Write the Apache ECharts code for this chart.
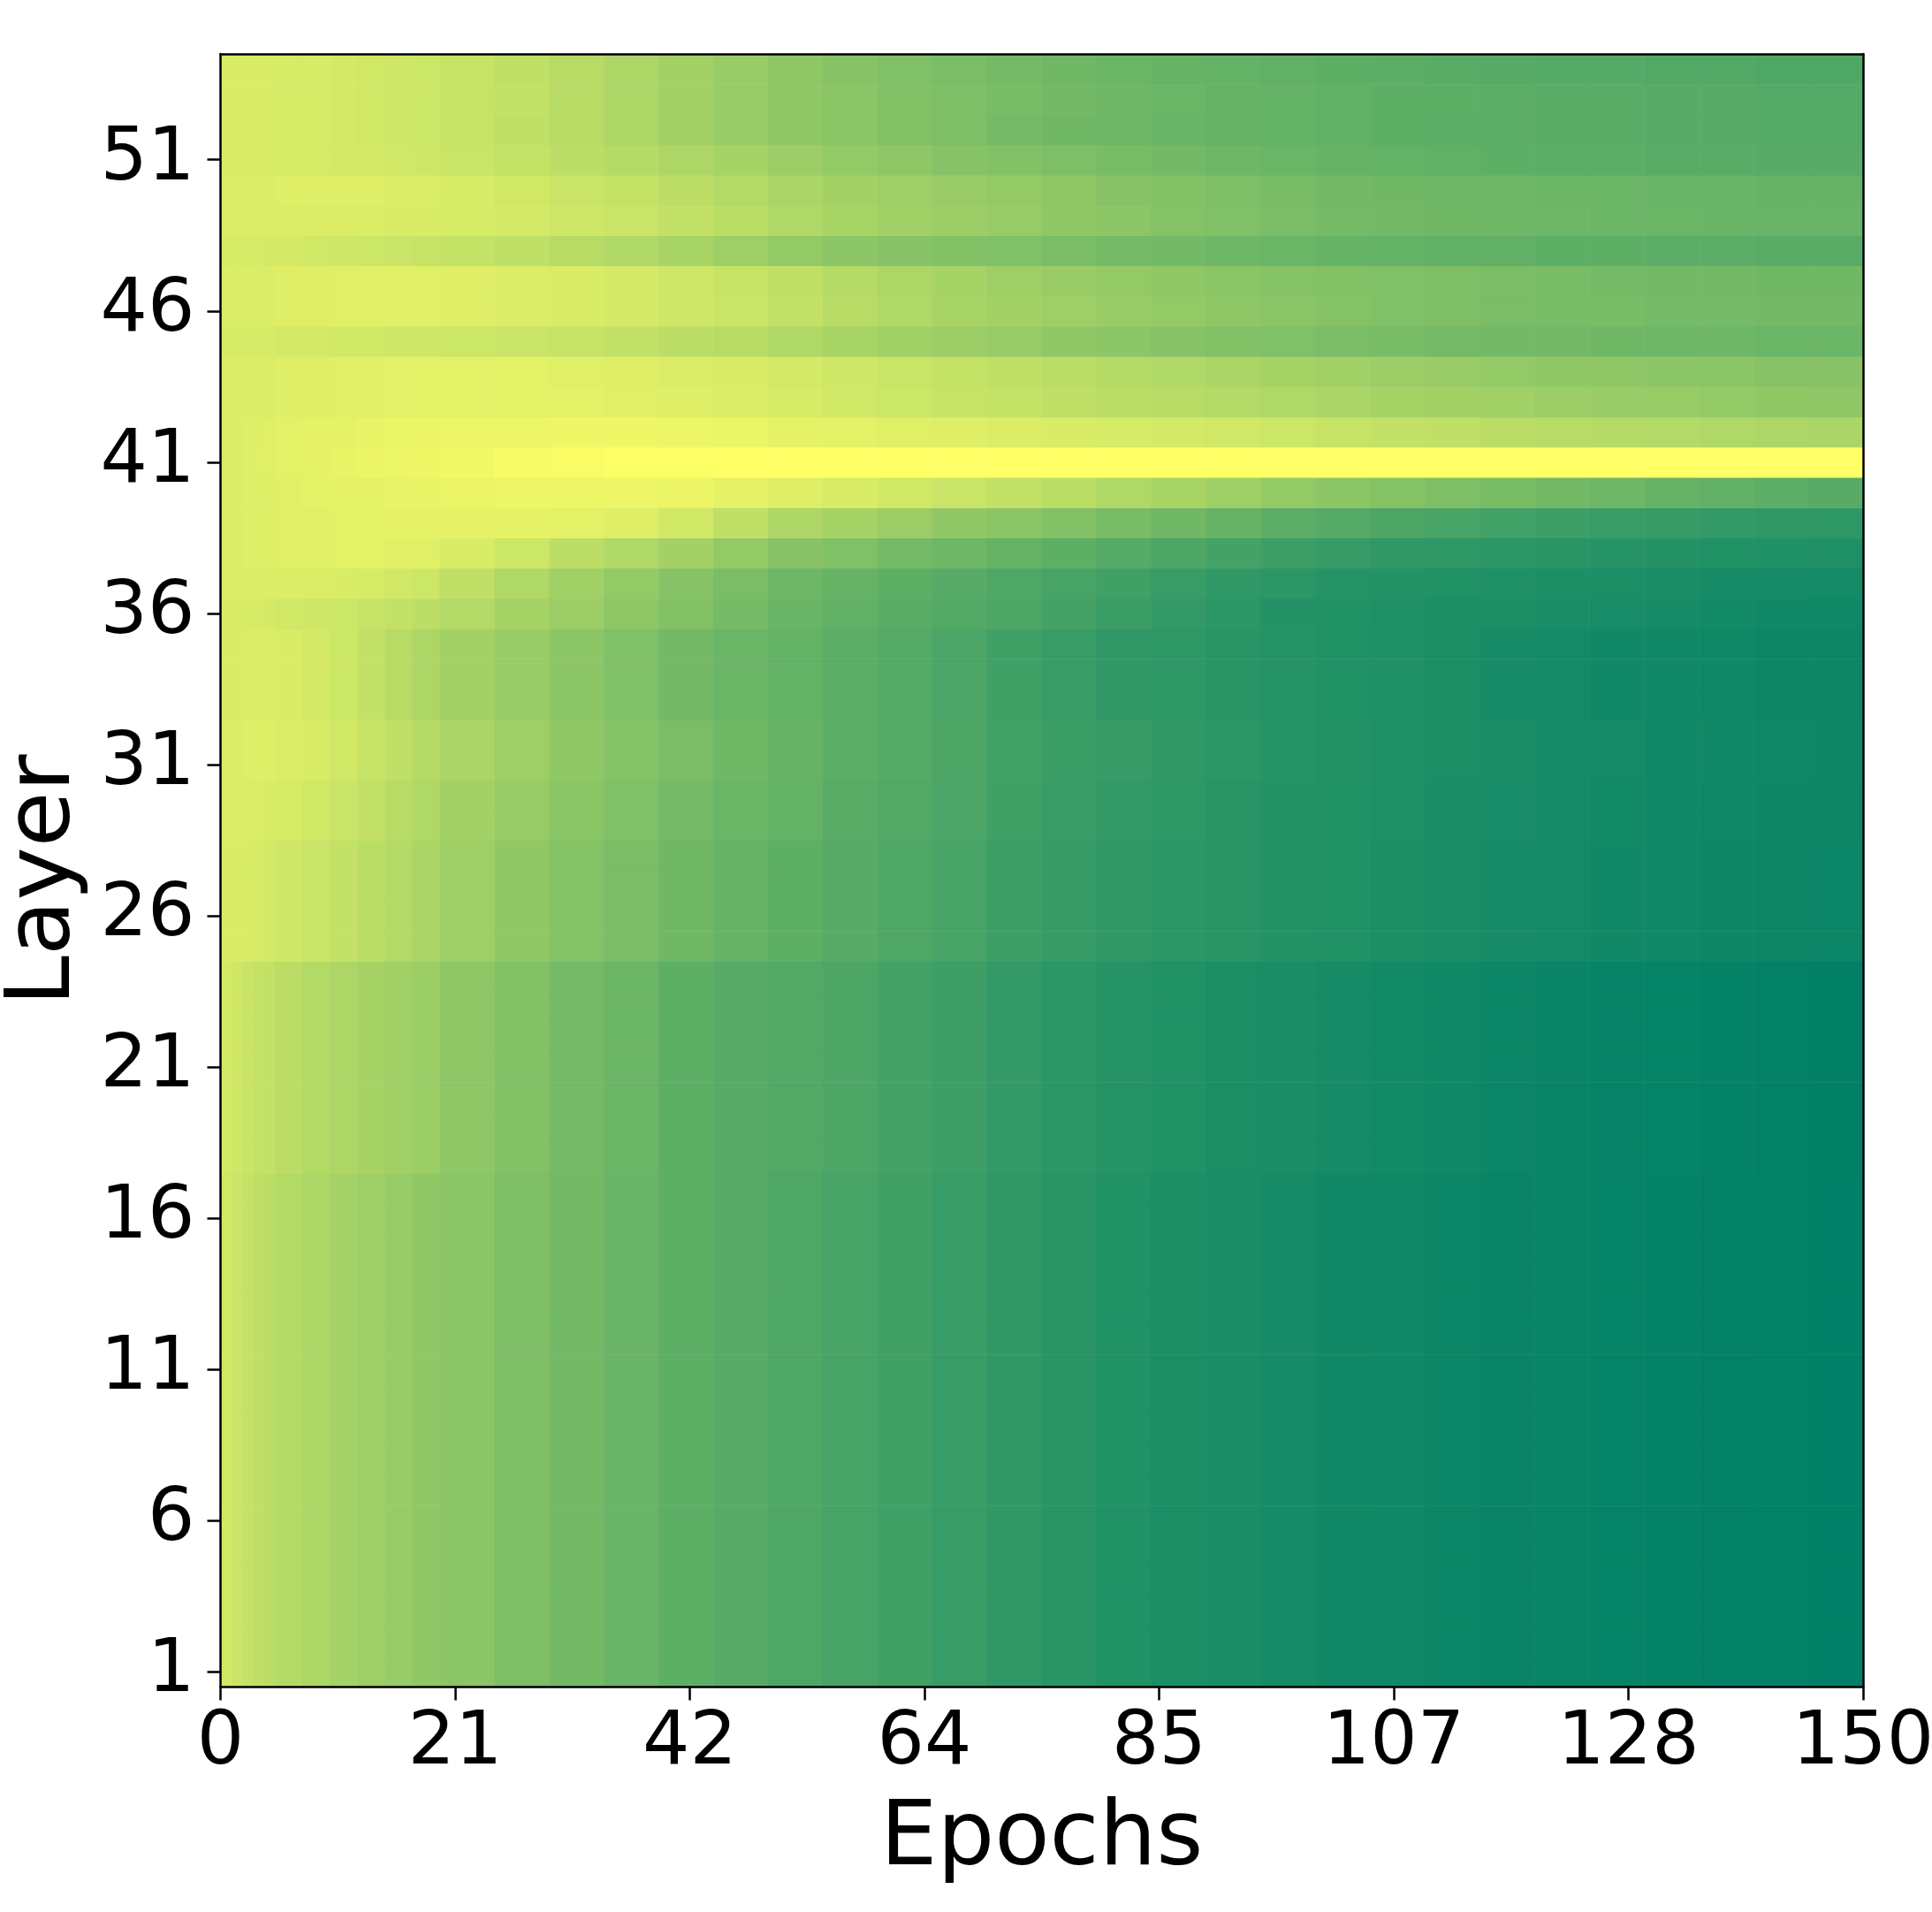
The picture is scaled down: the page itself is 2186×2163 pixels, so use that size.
<!DOCTYPE html>
<html>
<head>
<meta charset="utf-8">
<script src="https://cdn.jsdelivr.net/npm/echarts@6/dist/echarts.min.js"></script>
<style>
html,body{margin:0;padding:0;background:#fff;}
#main{width:2186px;height:2163px;}
</style>
</head>
<body>
<div id="main"></div>
<script>
// layer labels (y categories, bottom to top)
var layers = ['1','2','3','4','5','6','7','8','9','10','11','12','13','14','15','16','17','18',
	'19','20','21','22','23','24','25','26','27','28','29','30','31','32','33','34','35','36',
	'37','38','39','40','41','42','43','44','45','46','47','48','49','50','51','52','53','54'];

// cell edges along the epoch axis (finer where the colour changes fast)
var epochEdges = [0,1,2,3,4,5,7.5,10,12.5,15,17.5,20,25,30,35,40,45,50,55,60,65,70,75,80,85,90,
	95,100,105,110,115,120,125,130,135,140,145,150];

var xTickPos = [0, 21.43, 42.86, 64.29, 85.71, 107.14, 128.57, 150];
var xTickLabels = ['0','21','42','64','85','107','128','150'];

// normalised values, one list per row (or per group of identical rows)
var band1to17  = [0.82,0.79,0.77,0.75,0.73,0.705,0.675,0.645,0.62,0.595,0.57,
	0.54,0.49,0.45,0.41,0.37,0.34,0.31,0.28,0.25,0.22,0.19,0.16,0.13,0.11,0.10,0.085,0.07,0.06,0.045,0.035,0.03,0.02,0.015,0.01,0.005,0.0];
var band18to24 = [0.83,0.81,0.79,0.77,0.76,0.735,0.705,0.68,0.655,0.63,0.605,
	0.56,0.51,0.46,0.42,0.37,0.34,0.32,0.30,0.27,0.24,0.20,0.17,0.15,0.13,0.11,0.10,0.085,0.075,0.06,0.045,0.035,0.025,0.02,0.012,0.008,0.003];
var band25to28 = [0.85,0.85,0.85,0.84,0.83,0.81,0.79,0.76,0.73,0.70,0.67,
	0.62,0.57,0.52,0.48,0.44,0.40,0.37,0.34,0.31,0.28,0.24,0.21,0.19,0.17,0.16,0.14,0.13,0.115,0.10,0.09,0.08,0.07,0.06,0.055,0.05,0.045];
var band29to30 = [0.86,0.86,0.86,0.86,0.85,0.84,0.82,0.79,0.76,0.72,0.69,
	0.64,0.59,0.54,0.50,0.46,0.42,0.39,0.35,0.32,0.29,0.25,0.22,0.20,0.18,0.16,0.145,0.13,0.12,0.105,0.095,0.085,0.075,0.065,0.06,0.055,0.05];
var band31to32 = [0.86,0.86,0.87,0.87,0.87,0.86,0.85,0.82,0.78,0.75,0.71,
	0.67,0.62,0.57,0.52,0.48,0.44,0.40,0.36,0.33,0.30,0.26,0.23,0.21,0.19,0.17,0.15,0.135,0.12,0.11,0.10,0.09,0.08,0.07,0.065,0.06,0.055];
var band33to35 = [0.85,0.85,0.86,0.86,0.86,0.85,0.83,0.80,0.76,0.72,0.68,
	0.64,0.60,0.55,0.50,0.45,0.42,0.39,0.36,0.33,0.29,0.25,0.22,0.19,0.18,0.16,0.15,0.13,0.125,0.11,0.09,0.08,0.07,0.065,0.06,0.05,0.05];
var row36 = [0.85,0.85,0.84,0.84,0.83,0.82,0.81,0.80,0.78,0.76,0.74,
	0.70,0.65,0.61,0.56,0.51,0.46,0.41,0.38,0.35,0.32,0.30,0.27,0.23,0.20,0.17,0.14,0.13,0.12,0.115,0.11,0.10,0.095,0.085,0.075,0.07,0.06];
var row37 = [0.86,0.86,0.86,0.86,0.86,0.86,0.86,0.85,0.84,0.82,0.80,
	0.75,0.69,0.63,0.58,0.53,0.48,0.43,0.40,0.37,0.34,0.31,0.28,0.25,0.22,0.19,0.17,0.15,0.14,0.13,0.12,0.115,0.11,0.10,0.09,0.085,0.08];
var row38 = [0.86,0.86,0.87,0.87,0.87,0.88,0.88,0.89,0.89,0.88,0.88,
	0.85,0.80,0.74,0.69,0.64,0.58,0.53,0.50,0.46,0.43,0.40,0.37,0.33,0.30,0.27,0.24,0.21,0.19,0.18,0.17,0.16,0.15,0.14,0.13,0.125,0.12];
var row39 = [0.86,0.86,0.87,0.87,0.87,0.88,0.88,0.89,0.89,0.90,0.90,
	0.90,0.90,0.89,0.87,0.82,0.75,0.68,0.65,0.61,0.57,0.54,0.51,0.47,0.44,0.40,0.36,0.33,0.30,0.28,0.26,0.24,0.22,0.21,0.20,0.19,0.18];
var row40 = [0.86,0.86,0.87,0.87,0.87,0.88,0.89,0.90,0.90,0.91,0.91,
	0.92,0.93,0.93,0.93,0.92,0.90,0.87,0.85,0.82,0.79,0.76,0.73,0.69,0.66,0.62,0.58,0.55,0.52,0.49,0.47,0.45,0.43,0.40,0.38,0.36,0.34];
var row41 = [0.86,0.86,0.87,0.88,0.88,0.89,0.90,0.91,0.92,0.93,0.94,
	0.95,0.97,0.98,0.99,0.99,1,1,1,1,1,1,1,1,1,1,1,1,1,1,1,1,1,1,1,1,1];
var row42 = [0.86,0.86,0.87,0.87,0.88,0.89,0.90,0.90,0.91,0.92,0.92,
	0.93,0.93,0.94,0.94,0.93,0.92,0.90,0.89,0.88,0.87,0.86,0.85,0.84,0.83,0.82,0.80,0.78,0.76,0.75,0.73,0.72,0.71,0.70,0.69,0.68,0.67];
var row43 = [0.86,0.86,0.86,0.86,0.86,0.87,0.87,0.88,0.88,0.89,0.89,
	0.89,0.89,0.89,0.88,0.87,0.86,0.84,0.82,0.80,0.78,0.77,0.75,0.73,0.72,0.70,0.69,0.67,0.65,0.64,0.63,0.61,0.60,0.59,0.58,0.57,0.56];
var row44 = [0.86,0.86,0.86,0.86,0.86,0.87,0.87,0.88,0.88,0.89,0.89,
	0.89,0.89,0.88,0.87,0.86,0.85,0.83,0.81,0.79,0.77,0.75,0.73,0.71,0.69,0.67,0.65,0.63,0.61,0.60,0.58,0.57,0.56,0.55,0.54,0.53,0.53];
var row45 = [0.84,0.84,0.84,0.84,0.84,0.83,0.83,0.82,0.82,0.81,0.81,
	0.80,0.79,0.78,0.76,0.74,0.72,0.69,0.66,0.63,0.61,0.59,0.57,0.55,0.53,0.51,0.50,0.48,0.47,0.46,0.45,0.45,0.44,0.43,0.43,0.42,0.42];
var row46 = [0.86,0.86,0.86,0.86,0.86,0.87,0.87,0.88,0.88,0.88,0.88,
	0.87,0.86,0.85,0.83,0.81,0.79,0.76,0.72,0.69,0.66,0.64,0.62,0.60,0.58,0.56,0.54,0.52,0.50,0.49,0.48,0.47,0.47,0.46,0.46,0.45,0.45];
var row47 = [0.86,0.86,0.86,0.86,0.86,0.87,0.87,0.88,0.88,0.88,0.88,
	0.87,0.86,0.85,0.83,0.81,0.78,0.75,0.71,0.68,0.65,0.62,0.60,0.58,0.56,0.54,0.52,0.51,0.50,0.49,0.48,0.47,0.46,0.45,0.45,0.44,0.44];
var row48 = [0.84,0.84,0.84,0.84,0.83,0.83,0.82,0.81,0.80,0.79,0.78,
	0.77,0.75,0.72,0.69,0.66,0.62,0.58,0.55,0.53,0.51,0.50,0.48,0.46,0.45,0.43,0.42,0.40,0.39,0.38,0.38,0.37,0.37,0.36,0.36,0.35,0.35];
var row49 = [0.86,0.86,0.86,0.86,0.86,0.86,0.86,0.86,0.86,0.85,0.85,
	0.84,0.83,0.81,0.79,0.76,0.73,0.69,0.66,0.63,0.61,0.59,0.57,0.55,0.52,0.50,0.48,0.46,0.45,0.44,0.43,0.43,0.42,0.42,0.41,0.41,0.41];
var row50 = [0.86,0.86,0.86,0.86,0.86,0.87,0.87,0.87,0.87,0.86,0.86,
	0.84,0.82,0.79,0.77,0.74,0.70,0.67,0.64,0.62,0.60,0.58,0.56,0.53,0.51,0.49,0.47,0.45,0.44,0.43,0.43,0.42,0.42,0.41,0.41,0.40,0.40];
var row51 = [0.85,0.85,0.85,0.85,0.85,0.84,0.84,0.83,0.83,0.82,0.81,
	0.79,0.77,0.74,0.71,0.68,0.65,0.61,0.58,0.56,0.53,0.51,0.49,0.47,0.45,0.43,0.42,0.40,0.39,0.38,0.37,0.36,0.36,0.35,0.35,0.34,0.34];
var row52 = [0.85,0.85,0.85,0.85,0.85,0.84,0.84,0.83,0.82,0.81,0.80,
	0.78,0.75,0.72,0.68,0.64,0.60,0.57,0.54,0.51,0.49,0.46,0.44,0.43,0.41,0.40,0.39,0.38,0.37,0.36,0.36,0.35,0.35,0.34,0.34,0.33,0.33];
var row53 = [0.85,0.85,0.85,0.85,0.85,0.84,0.84,0.83,0.82,0.81,0.80,
	0.78,0.76,0.72,0.68,0.64,0.60,0.57,0.54,0.51,0.49,0.47,0.45,0.43,0.42,0.40,0.39,0.38,0.37,0.37,0.36,0.35,0.35,0.34,0.34,0.33,0.33];
var row54 = [0.85,0.85,0.85,0.85,0.85,0.84,0.84,0.83,0.82,0.81,0.80,
	0.78,0.75,0.72,0.68,0.64,0.60,0.56,0.53,0.50,0.48,0.46,0.44,0.42,0.40,0.39,0.38,0.37,0.36,0.35,0.34,0.33,0.33,0.32,0.32,0.31,0.31];

// which list each layer uses, layer 1 first
var layerRows = [
	band1to17,band1to17,band1to17,band1to17,band1to17,band1to17,band1to17,band1to17,band1to17,
	band1to17,band1to17,band1to17,band1to17,band1to17,band1to17,band1to17,band1to17,
	band18to24,band18to24,band18to24,band18to24,band18to24,band18to24,band18to24,
	band25to28,band25to28,band25to28,band25to28,
	band29to30,band29to30,
	band31to32,band31to32,
	band33to35,band33to35,band33to35,
	row36,row37,row38,row39,row40,row41,row42,row43,row44,row45,
	row46,row47,row48,row49,row50,row51,row52,row53,row54
];

function buildCells(){
	var cells = [];
	for(var i=0;i<layerRows.length;i++){
		for(var j=0;j<epochEdges.length-1;j++){
			// [epoch start, layer index, value, epoch end]
			cells.push([epochEdges[j], i, layerRows[i][j], epochEdges[j+1]]);
		}
	}
	return cells;
}

function renderCell(params, api){
	var li = api.value(1);
	var p0 = api.coord([api.value(0), li]);
	var p1 = api.coord([api.value(3), li]);
	var h = api.size([0, 1])[1];
	return {
		type: 'rect',
		shape: { x: p0[0], y: p0[1] - h/2, width: p1[0] - p0[0] + 0.6, height: h + 0.6 },
		style: { fill: api.visual('color') }
	};
}

var font = 'DejaVu Sans';
var black = { color: '#000', width: 2.5 };

var myChart = echarts.init(document.getElementById('main'));
var option = {
	backgroundColor: '#fff',
	animation: false,
	grid: {
		left: 249.5, right: 78, top: 61, bottom: 254.5,
		containLabel: false,
		outerBoundsMode: 'none'
	},
	visualMap: {
		show: false,
		type: 'continuous',
		min: 0, max: 1,
		dimension: 2,
		seriesIndex: 0,
		inRange: { color: ['#008066', '#ffff66'] }   // matplotlib "summer"
	},
	xAxis: [{
		type: 'value', min: 0, max: 150, position: 'bottom', z: 10,
		axisLine: { show: true, onZero: false, lineStyle: black },
		axisTick: { show: true, length: 15, lineStyle: black, customValues: xTickPos },
		axisLabel: {
			customValues: xTickPos,
			formatter: function(v, idx){
				var k = xTickPos.indexOf(v);
				return k >= 0 ? xTickLabels[k] : xTickLabels[idx];
			},
			fontSize: 84, color: '#000', fontFamily: font, margin: 23
		},
		splitLine: { show: false },
		name: 'Epochs', nameLocation: 'middle', nameGap: 123,
		nameTextStyle: { fontSize: 102, color: '#000', fontFamily: font }
	}, {
		type: 'value', min: 0, max: 150, position: 'top', z: 10,
		axisLine: { show: true, onZero: false, lineStyle: black },
		axisTick: { show: false }, axisLabel: { show: false }, splitLine: { show: false }
	}],
	yAxis: [{
		type: 'category', data: layers, position: 'left', z: 10,
		axisLine: { show: true, onZero: false, lineStyle: black },
		axisTick: { show: true, alignWithLabel: true, interval: 4, length: 15, lineStyle: black },
		axisLabel: { interval: 4, fontSize: 84, color: '#000', fontFamily: font, margin: 29 },
		splitLine: { show: false },
		name: 'Layer', nameLocation: 'middle', nameGap: 133,
		nameTextStyle: { fontSize: 102, color: '#000', fontFamily: font, padding: [0, 22, 0, 0] }
	}, {
		type: 'category', data: layers, position: 'right', z: 10,
		axisLine: { show: true, onZero: false, lineStyle: black },
		axisTick: { show: false }, axisLabel: { show: false }, splitLine: { show: false }
	}],
	series: [{
		type: 'custom',
		clip: true,
		renderItem: renderCell,
		encode: { x: 0, y: 1 },
		data: buildCells()
	}]
};
myChart.setOption(option, true);
</script>
</body>
</html>
